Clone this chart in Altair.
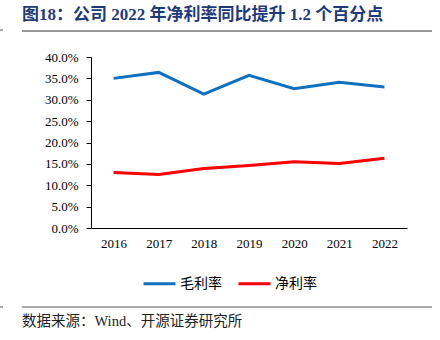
import altair as alt
import pandas as pd

years = ["2016", "2017", "2018", "2019", "2020", "2021", "2022"]
gross_margin = [0.350, 0.364, 0.313, 0.357, 0.326, 0.341, 0.330]
net_margin = [0.130, 0.125, 0.139, 0.146, 0.155, 0.151, 0.163]
series_names = ["毛利率", "净利率"]
y_ticks = [0, 0.05, 0.10, 0.15, 0.20, 0.25, 0.30, 0.35, 0.40]
title_text = "图18：公司 2022 年净利率同比提升 1.2 个百分点"
source_text = "数据来源：Wind、开源证券研究所"

rows = []
for y, g, n in zip(years, gross_margin, net_margin):
    rows.append({"year": y, "series": series_names[0], "value": g})
    rows.append({"year": y, "series": series_names[1], "value": n})
df = pd.DataFrame(rows)

serif = "Liberation Serif, Noto Sans CJK SC"

lines = alt.Chart(df).mark_line(strokeWidth=3).encode(
    x=alt.X("year:O", sort=years, title=None,
            scale=alt.Scale(type="point", padding=0.5),
            axis=alt.Axis(labelAngle=0, ticks=False, domainColor="#000000",
                          labelFont=serif, labelFontSize=13, labelColor="#000000",
                          labelPadding=9, grid=False)),
    y=alt.Y("value:Q", title=None,
            scale=alt.Scale(domain=[0, 0.4], nice=False),
            axis=alt.Axis(values=y_ticks, format=".1%", grid=False,
                          domainColor="#000000", tickColor="#000000", tickSize=5,
                          labelFont=serif, labelFontSize=13, labelColor="#000000",
                          labelPadding=8)),
    color=alt.Color("series:N", sort=series_names,
                    scale=alt.Scale(domain=series_names, range=["#1070C0", "#FF0000"]),
                    legend=alt.Legend(title=None, orient="none", direction="horizontal",
                                      legendX=51, legendY=209,
                                      symbolType="stroke", symbolSize=1024,
                                      symbolStrokeWidth=3,
                                      labelFont="Noto Sans CJK SC", labelFontSize=14,
                                      labelColor="#000000", columnPadding=10,
                                      labelOffset=3)),
)

one = pd.DataFrame({"t": [title_text]})
title = alt.Chart(one).mark_text(
    align="left", baseline="middle", font=serif, fontSize=17,
    fontWeight="bold", color="#1F3A78"
).encode(x=alt.value(-69), y=alt.value(-42), text="t:N")

src = alt.Chart(pd.DataFrame({"t": [source_text]})).mark_text(
    align="left", baseline="middle", font=serif, fontSize=14.5, color="#222222"
).encode(x=alt.value(-69), y=alt.value(265), text="t:N")

rule_top = alt.Chart(one).mark_rule(color="#333333", strokeWidth=1).encode(
    x=alt.value(-69), x2=alt.value(341), y=alt.value(-26))
rule_bot = alt.Chart(one).mark_rule(color="#555555", strokeWidth=1).encode(
    x=alt.value(-69), x2=alt.value(341), y=alt.value(250))
dash_top = alt.Chart(one).mark_rule(color="#555555", strokeWidth=1).encode(
    x=alt.value(-91), x2=alt.value(-88), y=alt.value(-27))
dash_bot = alt.Chart(one).mark_rule(color="#555555", strokeWidth=1).encode(
    x=alt.value(-91), x2=alt.value(-88), y=alt.value(250))

chart = alt.layer(lines, title, src, rule_top, rule_bot, dash_top, dash_bot).properties(
    width=316, height=171,
    autosize=alt.AutoSizeParams(type="none"),
    padding={"left": 91, "top": 57, "right": 33, "bottom": 112},
    background="white",
).configure_view(stroke=None)

chart.save("out.html", embed_options={"renderer": "svg", "actions": False})
